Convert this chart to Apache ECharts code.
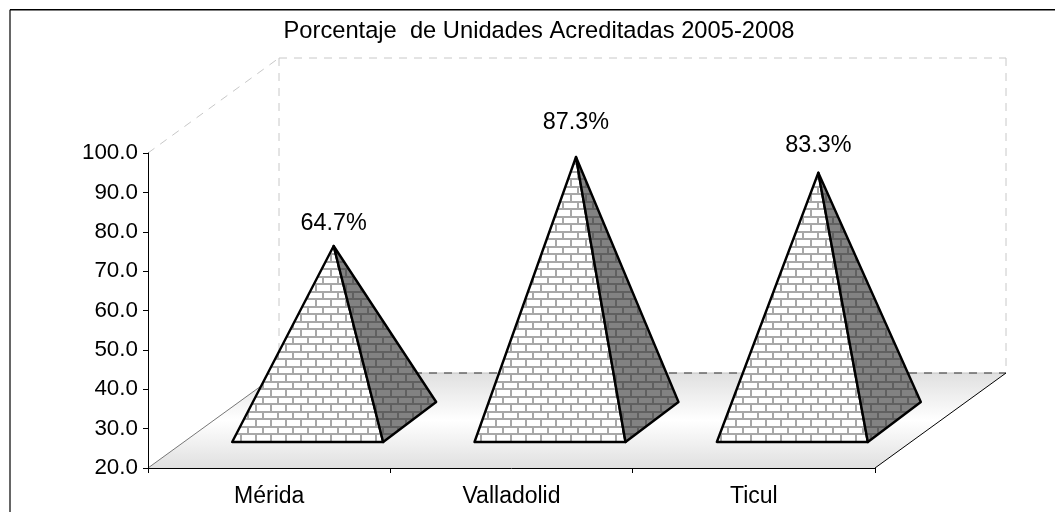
<!DOCTYPE html>
<html><head><meta charset="utf-8">
<style>html,body{margin:0;padding:0;background:#fff}#c{width:1055px;height:512px}</style>
<script src="https://cdn.jsdelivr.net/npm/echarts@6/dist/echarts.min.js"></script>
</head><body><div id="c"></div>
<script>
const titleText = 'Porcentaje  de Unidades Acreditadas 2005-2008';
const categories = ['Mérida', 'Valladolid', 'Ticul'];
const values = [64.7, 87.3, 83.3];
const labelLift = [22, 34, 27];
const FONT = '"Liberation Sans", Arial, sans-serif';

function brick(bg, mortar) {
  const c = document.createElement('canvas');
  c.width = 15; c.height = 15;
  const x = c.getContext('2d');
  x.fillStyle = bg; x.fillRect(0, 0, 15, 15);
  x.fillStyle = mortar;
  x.fillRect(0, 6, 15, 2);
  x.fillRect(0, 13, 15, 2);
  x.fillRect(0, 0, 2, 6);
  x.fillRect(7, 8, 2, 5);
  return c;
}
const frontTile = brick('#ffffff', '#a8a8a8');
const sideTile = brick('#828282', '#606060');

const chart = echarts.init(document.getElementById('c'), null, {renderer: 'canvas'});

function renderRoom(params, api) {
  const g = params.coordSys;
  const dx = 131, dy = -95;
  const L = g.x, R = g.x + g.width, T = g.y, B = g.y + g.height;
  const dash = {stroke: '#c8c8c8', lineWidth: 1, lineDash: [8, 7]};
  const line = (a, b, c, d, style) => ({type: 'line', shape: {x1: a, y1: b, x2: c, y2: d}, style});
  return {type: 'group', children: [
    line(L, T, L + dx, T + dy, dash),
    line(L + dx, T + dy, R + dx, T + dy, dash),
    line(L + dx, T + dy, L + dx, B + dy, dash),
    line(R + dx, T + dy, R + dx, B + dy, dash),
    {type: 'polygon', shape: {points: [[L, B], [R, B], [R + dx, B + dy], [L + dx, B + dy]]},
      style: {fill: {type: 'linear', x: 0, y: 0, x2: 0, y2: 1, colorStops: [
        {offset: 0, color: '#e0e0e0'}, {offset: 0.5, color: '#ffffff'}, {offset: 1, color: '#e0e0e0'}]}}},
    line(L + dx, B + dy, R + dx, B + dy, {stroke: '#c4c4c4', lineWidth: 1}),
    line(L + dx, B + dy, R + dx, B + dy, {stroke: '#333333', lineWidth: 1, lineDash: [8, 7]}),
    line(L, B, L + dx, B + dy, {stroke: '#777777', lineWidth: 1}),
    line(R, B, R + dx, B + dy, {stroke: '#000000', lineWidth: 1})
  ]};
}

function renderPyramid(params, api) {
  const i = api.value(0);
  const v = api.value(1);
  const base = api.coord([i, 20]);
  const top = api.coord([i, v]);
  const fl = [base[0] - 37, base[1] - 26];
  const fr = [base[0] + 114, base[1] - 26];
  const br = [base[0] + 167, base[1] - 66];
  const apex = [top[0] + 64.5, top[1] - 46];
  const edge = {stroke: '#000000', lineWidth: 2.4, lineJoin: 'round'};
  return {type: 'group', children: [
    {type: 'polygon', shape: {points: [fl, fr, apex]}, style: Object.assign({fill: {image: frontTile, repeat: 'repeat'}}, edge)},
    {type: 'polygon', shape: {points: [fr, br, apex]}, style: Object.assign({fill: {image: sideTile, repeat: 'repeat'}}, edge)},
    {type: 'text', style: {text: v.toFixed(1) + '%', x: apex[0], y: apex[1] - labelLift[i],
      align: 'center', verticalAlign: 'middle', fill: '#000', font: '23.4px ' + FONT}}
  ]};
}

chart.setOption({
  animation: false,
  backgroundColor: '#ffffff',
  title: {text: titleText, left: 534, top: 14, textAlign: 'center',
    textStyle: {fontFamily: FONT, fontSize: 23.7, fontWeight: 'normal', color: '#000'}},
  grid: {left: 148, top: 153, width: 727, height: 315, containLabel: false},
  xAxis: {type: 'category', data: categories, z: 5,
    axisLine: {lineStyle: {color: '#000', width: 1}},
    axisTick: {show: true, alignWithLabel: false, length: 5, lineStyle: {color: '#000'}},
    axisLabel: {margin: 17, color: '#000', fontFamily: FONT, fontSize: 23},
    splitLine: {show: false}},
  yAxis: {type: 'value', min: 20, max: 100, interval: 10, z: 5,
    axisLine: {show: true, lineStyle: {color: '#000', width: 1}},
    axisTick: {show: true, length: 5, lineStyle: {color: '#000'}},
    axisLabel: {margin: 10, color: '#000', fontFamily: FONT, fontSize: 22.4,
      formatter: v => v.toFixed(1)},
    splitLine: {show: false}},
  graphic: [
    {type: 'line', z: 10, shape: {x1: 10, y1: 512, x2: 10, y2: 9.75}, style: {stroke: '#333', lineWidth: 1.5}},
    {type: 'line', z: 10, shape: {x1: 10, y1: 9.75, x2: 1055, y2: 9.75}, style: {stroke: '#000', lineWidth: 1.5}}
  ],
  series: [
    {type: 'custom', coordinateSystem: 'cartesian2d', z: 1, silent: true, clip: false,
      renderItem: renderRoom, data: [[0, 20]], encode: {x: 0, y: 1}},
    {type: 'custom', coordinateSystem: 'cartesian2d', z: 2, silent: true, clip: false,
      renderItem: renderPyramid, data: values.map((v, i) => [i, v]), encode: {x: 0, y: 1}}
  ]
});
</script></body></html>
